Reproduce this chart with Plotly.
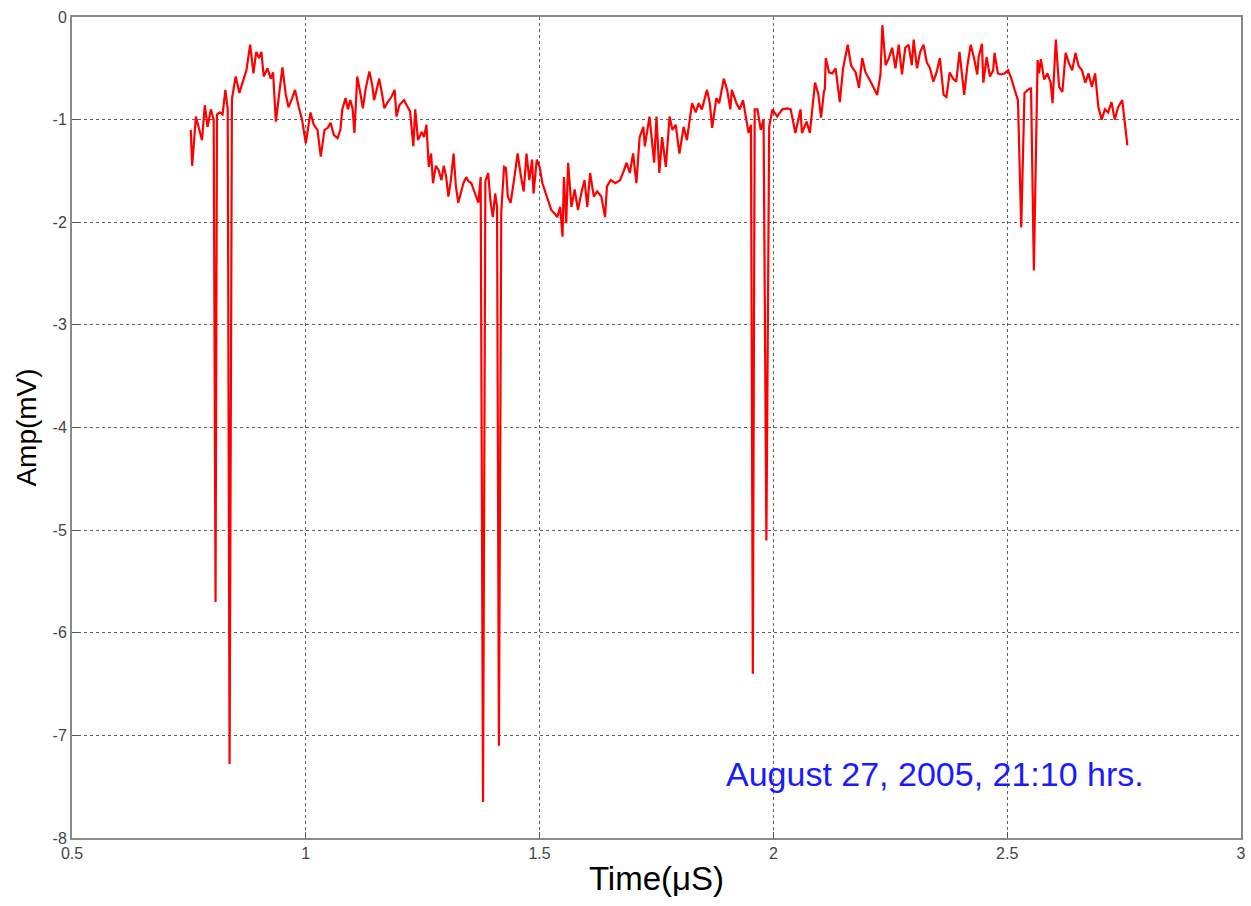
import plotly.graph_objects as go

time_us = [
    0.754, 0.757, 0.765, 0.772, 0.778, 0.784, 0.790, 0.797, 0.803, 0.807,
    0.810, 0.816, 0.822, 0.828, 0.833, 0.837, 0.842, 0.850, 0.858, 0.866,
    0.873, 0.881, 0.888, 0.894, 0.900, 0.905, 0.910, 0.918, 0.925, 0.930,
    0.936, 0.943, 0.950, 0.957, 0.963, 0.970, 0.977, 0.985, 0.992, 1.000,
    1.005, 1.010, 1.017, 1.025, 1.032, 1.040, 1.047, 1.053, 1.060, 1.068,
    1.074, 1.078, 1.085, 1.090, 1.095, 1.100, 1.104, 1.110, 1.117, 1.122,
    1.128, 1.136, 1.142, 1.146, 1.152, 1.157, 1.163, 1.168, 1.175, 1.183,
    1.190, 1.194, 1.200, 1.210, 1.217, 1.223, 1.230, 1.234, 1.240, 1.248,
    1.253, 1.258, 1.263, 1.268, 1.272, 1.278, 1.284, 1.290, 1.295, 1.300,
    1.305, 1.310, 1.316, 1.321, 1.326, 1.332, 1.337, 1.343, 1.348, 1.354,
    1.360, 1.369, 1.374, 1.379, 1.384, 1.390, 1.395, 1.400, 1.405, 1.409,
    1.413, 1.418, 1.424, 1.428, 1.432, 1.438, 1.445, 1.453, 1.460, 1.466,
    1.472, 1.478, 1.484, 1.487, 1.494, 1.500, 1.506, 1.515, 1.525, 1.533,
    1.538, 1.544, 1.549, 1.552, 1.557, 1.561, 1.568, 1.575, 1.582, 1.590,
    1.596, 1.602, 1.608, 1.616, 1.623, 1.632, 1.640, 1.644, 1.652, 1.662,
    1.672, 1.680, 1.686, 1.693, 1.700, 1.707, 1.714, 1.722, 1.725, 1.735,
    1.745, 1.750, 1.756, 1.762, 1.770, 1.778, 1.784, 1.791, 1.799, 1.808,
    1.815, 1.822, 1.826, 1.834, 1.840, 1.847, 1.858, 1.864, 1.869, 1.878,
    1.884, 1.894, 1.901, 1.908, 1.911, 1.921, 1.928, 1.935, 1.942, 1.947,
    1.952, 1.956, 1.960, 1.966, 1.973, 1.979, 1.985, 1.991, 1.998, 2.008,
    2.019, 2.030, 2.037, 2.047, 2.058, 2.061, 2.071, 2.078, 2.082, 2.089,
    2.096, 2.102, 2.108, 2.110, 2.112, 2.119, 2.126, 2.133, 2.142, 2.149,
    2.159, 2.166, 2.176, 2.183, 2.190, 2.197, 2.208, 2.215, 2.222, 2.229,
    2.233, 2.240, 2.247, 2.254, 2.261, 2.268, 2.275, 2.282, 2.289, 2.296,
    2.300, 2.307, 2.314, 2.321, 2.328, 2.335, 2.342, 2.349, 2.356, 2.364,
    2.370, 2.377, 2.384, 2.391, 2.398, 2.405, 2.408, 2.415, 2.422, 2.429,
    2.436, 2.439, 2.446, 2.449, 2.456, 2.463, 2.470, 2.473, 2.480, 2.487,
    2.494, 2.502, 2.509, 2.516, 2.523, 2.530, 2.537, 2.544, 2.551, 2.557,
    2.565, 2.568, 2.572, 2.579, 2.586, 2.593, 2.597, 2.604, 2.611, 2.618,
    2.625, 2.632, 2.639, 2.646, 2.653, 2.660, 2.667, 2.674, 2.681, 2.688,
    2.695, 2.702, 2.709, 2.716, 2.723, 2.730, 2.737, 2.746, 2.750, 2.757,
]

amp_mv = [
    -1.10, -1.45, -0.97, -1.10, -1.20, -0.86, -1.07, -0.90, -1.00, -5.70,
    -0.95, -0.93, -0.95, -0.71, -0.90, -7.28, -0.80, -0.58, -0.74, -0.62,
    -0.52, -0.27, -0.55, -0.34, -0.40, -0.34, -0.58, -0.50, -0.60, -0.54,
    -1.02, -0.75, -0.49, -0.75, -0.88, -0.80, -0.71, -0.88, -1.00, -1.23,
    -1.10, -0.93, -1.05, -1.10, -1.36, -1.10, -1.08, -1.03, -1.15, -1.18,
    -1.10, -0.90, -0.79, -0.90, -0.81, -0.89, -1.13, -0.58, -0.75, -0.89,
    -0.70, -0.53, -0.66, -0.81, -0.70, -0.60, -0.75, -0.89, -0.83, -0.78,
    -0.71, -0.97, -0.86, -0.81, -0.87, -0.92, -1.26, -0.90, -1.20, -1.12,
    -1.17, -1.05, -1.46, -1.33, -1.62, -1.45, -1.49, -1.59, -1.45, -1.55,
    -1.75, -1.60, -1.33, -1.65, -1.81, -1.70, -1.62, -1.56, -1.60, -1.62,
    -1.70, -1.81, -1.56, -7.65, -1.60, -1.52, -1.80, -1.95, -1.72, -1.85,
    -7.10, -1.90, -1.46, -1.47, -1.75, -1.81, -1.60, -1.33, -1.55, -1.70,
    -1.33, -1.59, -1.39, -1.72, -1.39, -1.46, -1.62, -1.75, -1.88, -1.92,
    -1.95, -1.85, -2.14, -1.56, -2.01, -1.42, -1.85, -1.68, -1.88, -1.70,
    -1.59, -1.85, -1.52, -1.75, -1.70, -1.75, -1.95, -1.65, -1.59, -1.62,
    -1.59, -1.50, -1.42, -1.52, -1.33, -1.62, -1.17, -1.07, -1.26, -0.97,
    -1.42, -0.97, -1.52, -1.17, -1.46, -0.97, -1.10, -1.05, -1.33, -1.07,
    -1.20, -0.97, -0.84, -0.93, -0.84, -0.90, -0.71, -0.84, -1.08, -0.79,
    -0.84, -0.60, -0.71, -0.90, -0.71, -0.84, -0.90, -0.81, -1.00, -1.13,
    -1.05, -6.40, -0.90, -0.90, -1.10, -1.00, -5.10, -1.07, -0.90, -0.97,
    -0.90, -0.89, -0.90, -1.13, -0.90, -1.13, -1.02, -1.13, -0.95, -0.64,
    -0.75, -0.98, -0.73, -0.70, -0.40, -0.54, -0.55, -0.50, -0.83, -0.50,
    -0.27, -0.47, -0.54, -0.69, -0.40, -0.54, -0.63, -0.69, -0.76, -0.56,
    -0.08, -0.47, -0.40, -0.30, -0.50, -0.27, -0.56, -0.30, -0.27, -0.47,
    -0.22, -0.50, -0.34, -0.27, -0.44, -0.50, -0.63, -0.54, -0.40, -0.76,
    -0.78, -0.54, -0.60, -0.63, -0.34, -0.63, -0.76, -0.47, -0.27, -0.40,
    -0.56, -0.39, -0.26, -0.64, -0.39, -0.58, -0.52, -0.35, -0.55, -0.56,
    -0.55, -0.52, -0.60, -0.71, -0.81, -2.05, -0.74, -0.71, -0.69, -2.47,
    -0.42, -0.55, -0.41, -0.61, -0.55, -0.64, -0.84, -0.22, -0.68, -0.73,
    -0.35, -0.45, -0.52, -0.35, -0.48, -0.52, -0.64, -0.55, -0.68, -0.55,
    -0.88, -1.00, -0.90, -0.93, -0.83, -1.00, -0.88, -0.81, -0.97, -1.25,
]

x_ticks = [0.5, 1, 1.5, 2, 2.5, 3]
x_tick_labels = ["0.5", "1", "1.5", "2", "2.5", "3"]
y_ticks = [0, -1, -2, -3, -4, -5, -6, -7, -8]
y_tick_labels = ["0", "-1", "-2", "-3", "-4", "-5", "-6", "-7", "-8"]

annotation_text = "August 27, 2005, 21:10 hrs."

FONT = "Liberation Sans, Arial, sans-serif"

fig = go.Figure()
fig.add_trace(go.Scatter(
    x=time_us, y=amp_mv, mode="lines",
    line=dict(color="#ff0000", width=2.2),
    showlegend=False,
))

axis_common = dict(
    showline=True, linecolor="#8a8a8a", linewidth=2, mirror=True,
    showgrid=True, gridcolor="#606060", gridwidth=1, griddash="dot",
    zeroline=False, ticks="inside", ticklen=6, tickcolor="#555555",
    tickfont=dict(family=FONT, size=16, color="#444444"),
)

fig.update_xaxes(
    range=[0.5, 3], tickvals=x_ticks, ticktext=x_tick_labels,
    title=dict(text="Time(μS)", font=dict(family=FONT, size=33, color="#000000"), standoff=6),
    **axis_common,
)
fig.update_yaxes(
    range=[-8, 0], tickvals=y_ticks, ticktext=y_tick_labels,
    title=dict(text="Amp(mV)", font=dict(family=FONT, size=28, color="#000000"), standoff=8),
    **axis_common,
)

fig.add_annotation(
    x=1.894, y=-7.38, xref="x", yref="y", text=annotation_text,
    showarrow=False, xanchor="left", yanchor="middle",
    font=dict(family=FONT, size=34, color="#1a1aff"),
)

fig.update_layout(
    width=1251, height=906,
    margin=dict(l=72, r=5, t=17, b=68),
    paper_bgcolor="white", plot_bgcolor="white",
)

fig.write_html("out.html")
